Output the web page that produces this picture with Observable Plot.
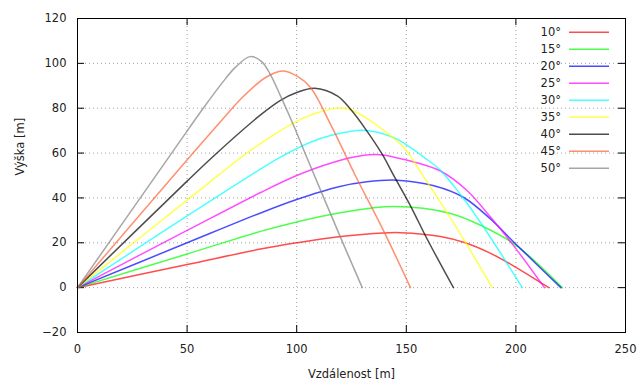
<!DOCTYPE html>
<html><head><meta charset="utf-8">
<script src="https://cdn.jsdelivr.net/npm/d3@7"></script>
<script src="https://cdn.jsdelivr.net/npm/@observablehq/plot@0.6"></script>
<style>body{margin:0;background:#fff;} svg{display:block;}</style>
</head><body><div id="chart"></div>
<script>
const angles = ["10°", "15°", "20°", "25°", "30°", "35°", "40°", "45°", "50°"];
const colors = ["#ff0000", "#00ff00", "#0000ff", "#ff00ff", "#00ffff", "#ffff00", "#000000", "#ff6030", "#808080"];

const traj10 = [[0,0],[50,10.3],[83.5,17.2],[100,20],[119.2,22.7],[139.7,24.4],[147.4,24.5],[165.6,22.8],[176.5,20.1],[188,15.5],[197.5,10.5],[215,0]];
const traj15 = [[0,0],[50,15],[83.5,25.1],[100,29.3],[119.2,33.3],[144.3,36.2],[170.2,33.1],[185.4,27.1],[199.8,19.1],[221.2,0]];
const traj20 = [[0,0],[50,20],[83.5,33.3],[100,39.3],[119.2,45],[132,47.2],[145.8,47.9],[162.6,45.4],[176.2,40.2],[188.4,30.6],[199.8,19.6],[220.5,0]];
const traj25 = [[0,0],[50,25.5],[83.5,42.4],[100,50],[115.4,55.5],[130.6,59],[138,59.3],[149.6,57],[165.6,52],[177.8,43.2],[188.4,31.5],[199.3,18.3],[213,0]];
const traj30 = [[0,0],[50,32],[85.8,54.3],[92.6,58.2],[106.3,64.8],[115.4,67.8],[130.6,70.2],[144.3,66.9],[149.6,64],[158,58.2],[165.6,52.3],[174.7,41.5],[185.4,26.8],[202.9,0]];
const traj35 = [[0,0],[50,39],[76.6,59.5],[85.8,65.8],[98.7,73.5],[108,77.5],[115.4,79.6],[119.5,80.1],[124.5,79.3],[133.7,74.4],[142.8,67.7],[149.6,61.7],[157.2,50.5],[165.6,38],[177,20.2],[189.2,0]];
const traj40 = [[0,0],[50,47.5],[63,59.5],[83.5,77],[92.6,83.5],[100,87],[108.2,88.9],[118.5,85.5],[124.5,79.6],[131.4,70.7],[139,59.5],[144.3,49.9],[151.9,36.5],[159.5,21.7],[171.5,0]];
const traj45 = [[0,0],[52.7,60],[67.5,76.5],[74.4,84],[85.8,93.7],[93.4,96.6],[100.2,94.3],[106.3,89.2],[115.4,72.9],[126.8,49.9],[139.7,25.2],[151.9,0]];
const traj50 = [[0,0],[44.4,62],[57.6,80.3],[66,91.3],[72,98.2],[78.7,103],[84,100.8],[88,95],[92.6,85.5],[98.7,72.1],[104,59.5],[120,22.4],[129.9,0]];

const xTicks = [0, 50, 100, 150, 200, 250];
const yTicks = [-20, 0, 20, 40, 60, 80, 100, 120];
const xGrid = [50, 100, 150, 200];
const yGrid = [0, 20, 40, 60, 80, 100];
const xLabel = "Vzdálenost [m]";
const yLabel = "Výška [m]";

const trajectories = [traj10, traj15, traj20, traj25, traj30, traj35, traj40, traj45, traj50];
const rows = trajectories.flatMap((t, i) => t.map(([x, y]) => ({angle: angles[i], x, y})));

const font = "DejaVu Sans, sans-serif";
const W = 641, H = 385, mL = 77, mR = 16, mT = 18, mB = 53;
const innerW = W - mL - mR, innerH = H - mT - mB;
const tickLen = 7;

const chart = Plot.plot({
  width: W, height: H,
  marginLeft: mL, marginRight: mR, marginTop: mT, marginBottom: mB,
  style: {fontFamily: font, fontSize: "11.5px", color: "#222", background: "#fff"},
  x: {domain: [0, 250], ticks: xTicks, tickSize: 0, tickPadding: 12, label: null},
  y: {domain: [-20, 120], ticks: yTicks, tickSize: 0, tickPadding: 11, label: null},
  color: {domain: angles, range: colors},
  marks: [
    Plot.ruleX(xGrid, {stroke: "#a0a0a0", strokeDasharray: "1,3"}),
    Plot.ruleY(yGrid, {stroke: "#a0a0a0", strokeDasharray: "1,3"}),
    Plot.tickX(xGrid, {x: d => d, insetTop: innerH - tickLen, stroke: "#000"}),
    Plot.tickX(xGrid, {x: d => d, insetBottom: innerH - tickLen, stroke: "#000"}),
    Plot.tickY(yGrid, {y: d => d, insetRight: innerW - tickLen, stroke: "#000"}),
    Plot.tickY(yGrid, {y: d => d, insetLeft: innerW - tickLen, stroke: "#000"}),
    Plot.line(rows, {x: "x", y: "y", z: "angle", stroke: "angle", strokeWidth: 1.5, strokeOpacity: 0.7, curve: "catmull-rom"}),
    Plot.frame({stroke: "#000"}),
    Plot.text([xLabel], {frameAnchor: "bottom", dy: 42, text: d => d, lineAnchor: "middle", fill: "#222"}),
    Plot.text([yLabel], {frameAnchor: "left", dx: -57, rotate: -90, text: d => d, lineAnchor: "middle", fill: "#222"})
  ]
});

// legend inside the plot, top-right
const svg = d3.select(chart);
const lg = svg.append("g").attr("font-family", font).attr("font-size", "11.5px").attr("fill", "#222");
angles.forEach((a, i) => {
  const yy = 32.3 + 17 * i;
  lg.append("text").attr("x", 561).attr("y", yy).attr("dy", "0.35em").attr("text-anchor", "end").text(a);
  lg.append("line").attr("x1", 569).attr("x2", 609).attr("y1", yy).attr("y2", yy)
    .attr("stroke", colors[i]).attr("stroke-width", 1.5).attr("stroke-opacity", 0.7);
});

document.getElementById("chart").appendChild(chart);
</script>
</body></html>
